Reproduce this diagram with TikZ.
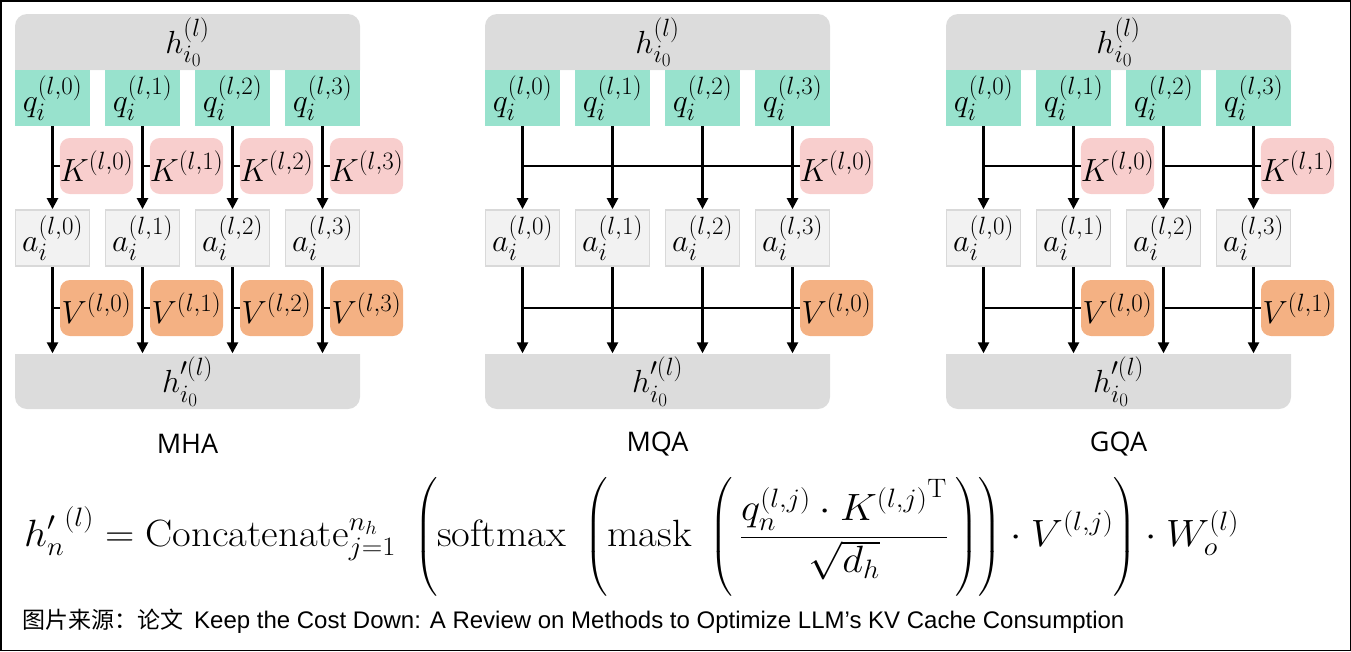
\RequirePackage{fix-cm}
\documentclass[tikz,border=0pt]{standalone}
\usepackage{amsmath}
\usepackage{graphicx}
\usepackage{fontspec}
\setsansfont{Open Sans}
\newfontfamily\capfont{Liberation Sans}
\newfontfamily\cjk{Noto Sans CJK SC}
\usetikzlibrary{arrows.meta,calc}
\DeclareMathSizes{32}{32}{25}{19}

\definecolor{qcol}{RGB}{152,226,205}
\definecolor{kcol}{RGB}{248,206,205}
\definecolor{vcol}{RGB}{244,177,131}
\definecolor{hcol}{RGB}{220,220,220}
\definecolor{acol}{RGB}{242,242,242}
\definecolor{aline}{RGB}{217,217,217}

\newcommand\mfont{\fontsize{32}{38}\selectfont}

\tikzset{
  qbox/.style={fill=qcol, minimum width=75pt, minimum height=56pt, inner sep=0pt, font=\mfont},
  kbox/.style={fill=kcol, rounded corners=10pt, minimum width=73pt, minimum height=56pt, inner sep=0pt, font=\mfont},
  vbox/.style={fill=vcol, rounded corners=10pt, minimum width=73pt, minimum height=56pt, inner sep=0pt, font=\mfont},
  abox/.style={fill=acol, draw=aline, line width=1.8pt, minimum width=74pt, minimum height=56pt, inner sep=0pt, font=\mfont},
  hnode/.style={minimum width=345pt, minimum height=56pt, inner sep=0pt, font=\mfont},
  arr/.style={line width=2.4pt, -{Triangle[width=11pt,length=11pt]}},
  conn/.style={line width=2.4pt},
  lab/.style={font=\sffamily\fontsize{27}{32}\selectfont},
}

\newcommand\panel[2]{%
\begin{scope}[xshift=#2pt]
  \fill[hcol] (15,70) [rounded corners=12pt] -- (15,14) -- (360,14) [sharp corners] -- (360,70) -- cycle;
  \node[hnode] (#1-ht) at (187.5,42) {$h_{i_0}^{(l)}$};
  \fill[hcol] (15,354) [rounded corners=12pt] -- (15,409) -- (360,409) [sharp corners] -- (360,354) -- cycle;
  \node[hnode] (#1-hb) at (187.5,381.5) {$h'^{(l)}_{i_0}$};
  \foreach \i/\c in {0/52.5,1/142.5,2/232.5,3/322.5} {
    \node[qbox] (#1-q\i) at (\c,98) {$q_i^{(l,\i)}$};
    \node[abox] (#1-a\i) at (\c,238) {$a_i^{(l,\i)}$};
    \draw[arr] (#1-q\i) -- (#1-a\i);
    \draw[arr] (#1-a\i) -- (#1-a\i.south |- #1-hb.north);
  }
\end{scope}}

\begin{document}
\begin{tikzpicture}[x=1pt,y=-1pt]
\useasboundingbox (0,0) rectangle (1351,651);
\draw[line width=1.5pt] (0.75,0.75) rectangle (1350.25,650.25);

% MHA
\panel{A}{0}
\foreach \i/\c in {0/52.5,1/142.5,2/232.5,3/322.5} {
  \node[kbox] (A-k\i) at ({\c+44},166) {$K^{(l,\i)}$};
  \draw[conn] (A-k\i.west) -- (A-k\i.west -| A-q\i.south);
  \node[vbox] (A-v\i) at ({\c+44},308) {$V^{(l,\i)}$};
  \draw[conn] (A-v\i.west) -- (A-v\i.west -| A-a\i.south);
}
\node[lab] (A-lab) at (187.5,444) {MHA};

% MQA
\panel{B}{470}
\begin{scope}[xshift=470pt]
  \node[kbox] (B-k0) at (366.5,166) {$K^{(l,0)}$};
  \node[vbox] (B-v0) at (366.5,308) {$V^{(l,0)}$};
  \node[lab] (B-lab) at (187.5,444) {MQA};
\end{scope}
\draw[conn] (B-k0.west) -- (B-k0.west -| B-q0.south);
\draw[conn] (B-v0.west) -- (B-v0.west -| B-a0.south);

% GQA
\panel{C}{931}
\begin{scope}[xshift=931pt]
  \node[kbox] (C-k0) at (186.5,166) {$K^{(l,0)}$};
  \node[kbox] (C-k1) at (366.5,166) {$K^{(l,1)}$};
  \node[vbox] (C-v0) at (186.5,308) {$V^{(l,0)}$};
  \node[vbox] (C-v1) at (366.5,308) {$V^{(l,1)}$};
  \node[lab] (C-lab) at (187.5,444) {GQA};
\end{scope}
\draw[conn] (C-k0.west) -- (C-k0.west -| C-q0.south);
\draw[conn] (C-k1.west) -- (C-k1.west -| C-q2.south);
\draw[conn] (C-v0.west) -- (C-v0.west -| C-a0.south);
\draw[conn] (C-v1.west) -- (C-v1.west -| C-a2.south);

% formula
\node[anchor=west, inner sep=0pt, font=\fontsize{38}{44}\selectfont] (F) at (24,537)
 {\scalebox{1.07}[1]{$\displaystyle {h'_n}^{(l)} = \mathrm{Concatenate}_{j=1}^{n_h}\;\left(\mathrm{softmax}\;\left(\mathrm{mask}\;\left(\,\frac{q_n^{(l,j)}\cdot {K^{(l,j)}}^{\mathrm{T}}}{\sqrt{d_h}}\,\right)\right)\cdot V^{(l,j)}\right)\cdot W_o^{(l)}$}};

% caption
\node[anchor=west, inner sep=0pt] (cap) at (22,621)
 {{\cjk\fontsize{23}{28}\selectfont 图片来源：论文}\hspace{11pt}{\capfont\fontsize{24}{28}\selectfont Keep the Cost Down: A Review on Methods to Optimize LLM’s KV Cache Consumption}};
\end{tikzpicture}
\end{document}
